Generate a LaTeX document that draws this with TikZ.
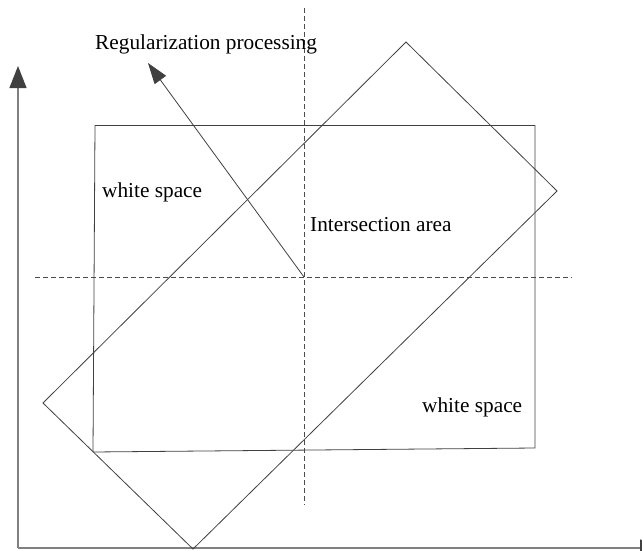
\documentclass[tikz,border=0pt]{standalone}
\usepackage{fontspec}
\setmainfont{Liberation Serif}
\usetikzlibrary{arrows.meta}
\begin{document}
\begin{tikzpicture}[x=1pt,y=-1pt,
  shape line/.style={draw=black!75,line width=0.8pt,line join=miter},
  axis/.style={draw=black!50,line width=1.2pt,-{Triangle[length=22pt,width=17pt,fill=black!75,color=black!75]}},
  guide/.style={draw=black!70,line width=0.7pt,dash pattern=on 5pt off 3pt},
  lbl/.style={font=\fontsize{21.3}{24}\selectfont,inner sep=0pt,anchor=base west}]
\clip (0,0) rectangle (642,551);
\useasboundingbox (0,0) rectangle (642,551);
% axes
\coordinate (O) at (18,548);
\coordinate (Ytip) at (18,66);
\coordinate (Xtip) at (662,548);
\draw[axis] (O) -- (Ytip);
\draw[axis] (O) -- (Xtip);
% guide lines
\coordinate (vt) at (304,8);
\coordinate (vb) at (304,505);
\coordinate (hl) at (35,277);
\coordinate (hr) at (572,277);
\draw[guide] (vt) -- (vb);
\draw[guide] (hl) -- (hr);
% quadrilateral
\coordinate (A) at (95,125.5);
\coordinate (B) at (535,125.5);
\coordinate (C) at (535,448);
\coordinate (D) at (93,452);
\draw[shape line] (A) -- (B) -- (C) -- (D) -- cycle;
% rotated rectangle
\coordinate (P) at (406,42);
\coordinate (Q) at (557,191);
\coordinate (R) at (193,549);
\coordinate (S) at (43,403);
\draw[shape line] (P) -- (Q) -- (R) -- (S) -- cycle;
% regularization arrow
\coordinate (ctr) at (304,277);
\coordinate (tip) at (148,63);
\draw[draw=black!75,line width=0.8pt,-{Triangle[length=21pt,width=14pt]}] (ctr) -- (tip);
% labels
\node[lbl] (reg) at (95,49) {Regularization processing};
\node[lbl] (ws1) at (102,197) {white space};
\node[lbl] (ia) at (310,231) {Intersection area};
\node[lbl] (ws2) at (422,412) {white space};
\end{tikzpicture}
\end{document}
